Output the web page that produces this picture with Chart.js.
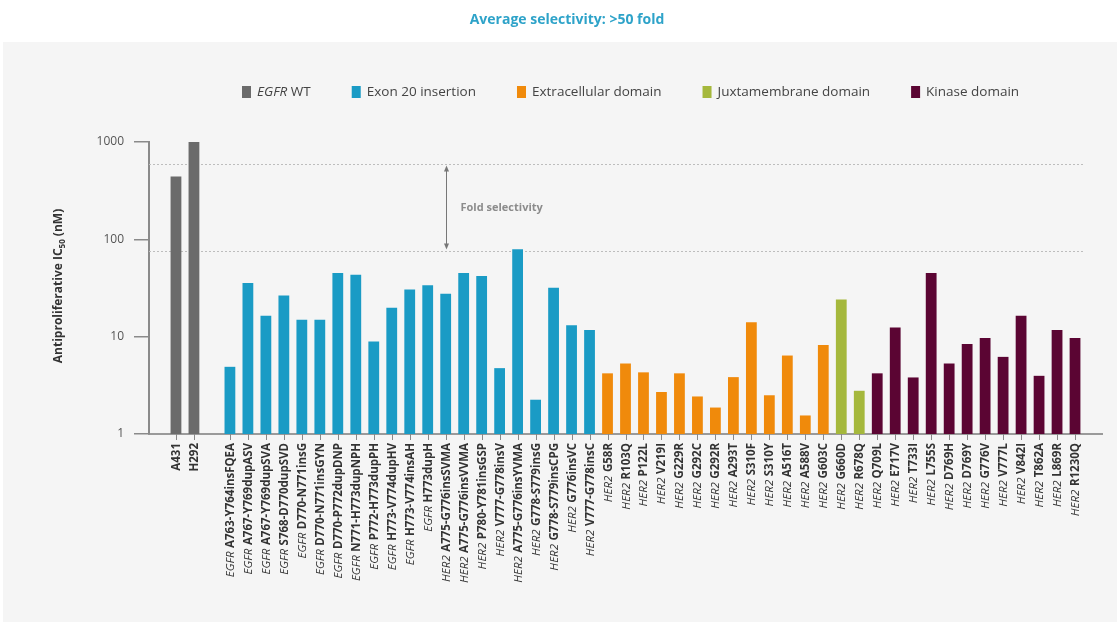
<!DOCTYPE html>
<html>
<head>
<meta charset="utf-8">
<script src="https://cdn.jsdelivr.net/npm/chart.js@4.4.0/dist/chart.umd.min.js"></script>
<style>
  html, body { margin: 0; padding: 0; background: #fff; }
  canvas { display: block; }
</style>
</head>
<body>
<canvas id="chart" width="1117" height="628"></canvas>
<script>
const FONT = "'Open Sans', sans-serif";
const titleText = "Average selectivity: >50 fold";
const yTitle = ["Antiproliferative IC", "50", " (nM)"];

const groupNames = ["EGFR WT", "Exon 20 insertion", "Extracellular domain", "Juxtamembrane domain", "Kinase domain"];
const groupColors = ["#6b6b6b", "#1a9bc5", "#f08a0b", "#a5b83c", "#5b0533"];

const wtCells = ["A431", "H292"];
const wtIC50 = [443, 1000];

const exon20Mutants = [
  "EGFR A763-Y764insFQEA", "EGFR A767-Y769dupASV", "EGFR A767-Y769dupSVA", "EGFR S768-D770dupSVD",
  "EGFR D770-N771insG", "EGFR D770-N771insGYN", "EGFR D770-P772dupDNP", "EGFR N771-H773dupNPH",
  "EGFR P772-H773dupPH", "EGFR H773-V774dupHV", "EGFR H773-V774insAH", "EGFR H773dupH",
  "HER2 A775-G776insSVMA", "HER2 A775-G776insVVMA", "HER2 P780-Y781insGSP", "HER2 V777-G778insV",
  "HER2 A775-G776insYVMA", "HER2 G778-S779insG", "HER2 G778-S779insCPG", "HER2 G776insVC",
  "HER2 V777-G778insC"
];
const exon20IC50 = [4.9, 35.5, 16.4, 26.5, 14.9, 14.9, 45, 43.3, 8.9, 19.8, 30.6, 33.8,
  27.6, 45, 41.9, 4.75, 79, 2.25, 31.8, 13.1, 11.7];

const ecdMutants = ["HER2 G58R", "HER2 R103Q", "HER2 P122L", "HER2 V219I", "HER2 G229R", "HER2 G292C",
  "HER2 G292R", "HER2 A293T", "HER2 S310F", "HER2 S310Y", "HER2 A516T", "HER2 A588V", "HER2 G603C"];
const ecdIC50 = [4.2, 5.3, 4.3, 2.7, 4.2, 2.43, 1.87, 3.84, 14.1, 2.5, 6.4, 1.55, 8.2];

const jmMutants = ["HER2 G660D", "HER2 R678Q"];
const jmIC50 = [24.1, 2.78];

const kinaseMutants = ["HER2 Q709L", "HER2 E717V", "HER2 T733I", "HER2 L755S", "HER2 D769H", "HER2 D769Y",
  "HER2 G776V", "HER2 V777L", "HER2 V842I", "HER2 T862A", "HER2 L869R", "HER2 R1230Q"];
const kinaseIC50 = [4.2, 12.4, 3.81, 45, 5.3, 8.4, 9.7, 6.2, 16.4, 3.96, 11.7, 9.7];

const yTicks = [1, 10, 100, 1000];
const selectivityLevels = [600, 75];
const arrowAnchor = "HER2 A775-G776insSVMA";
const arrowText = "Fold selectivity";

// build category list, with empty slots at both ends and after the WT pair
const groups = [wtCells, exon20Mutants, ecdMutants, jmMutants, kinaseMutants];
const groupValues = [wtIC50, exon20IC50, ecdIC50, jmIC50, kinaseIC50];
const labels = [""], values = [null], colors = ["rgba(0,0,0,0)"];
groups.forEach((g, gi) => {
  g.forEach((name, i) => {
    labels.push(name);
    values.push(groupValues[gi][i]);
    colors.push(groupColors[gi]);
  });
  if (gi === 0) { labels.push(""); values.push(null); colors.push("rgba(0,0,0,0)"); }
});
labels.push(""); values.push(null); colors.push("rgba(0,0,0,0)");

function drawSplit(ctx, text, x, y, size, color) {
  // "EGFR WT" style text: gene name italic, rest regular
  ctx.fillStyle = color;
  ctx.textAlign = "left";
  const sp = text.indexOf(" ");
  if (text.startsWith("EGFR ") || text.startsWith("HER2 ")) {
    ctx.font = "italic " + size + "px " + FONT;
    ctx.fillText(text.slice(0, sp), x, y);
    const w = ctx.measureText(text.slice(0, sp + 1)).width;
    ctx.font = size + "px " + FONT;
    ctx.fillText(text.slice(sp + 1), x + w, y);
    return w + ctx.measureText(text.slice(sp + 1)).width;
  }
  ctx.font = size + "px " + FONT;
  ctx.fillText(text, x, y);
  return ctx.measureText(text).width;
}

const decor = {
  id: "decor",
  beforeDraw(chart) {
    const ctx = chart.ctx;
    ctx.save();
    ctx.fillStyle = "#ffffff";
    ctx.fillRect(0, 0, chart.width, chart.height);
    ctx.fillStyle = "#f5f5f5";
    ctx.fillRect(3, 42, chart.width - 3, 580);

    // title
    ctx.fillStyle = "#2ea3c9";
    ctx.font = "bold 14px " + FONT;
    ctx.textAlign = "center";
    ctx.textBaseline = "middle";
    ctx.fillText(titleText, 567, 20);

    // legend
    let x = 242;
    const ly = 92;
    groupNames.forEach((name, i) => {
      ctx.fillStyle = groupColors[i];
      ctx.fillRect(x, ly - 6, 9, 12);
      x += 15;
      x += drawSplit(ctx, name, x, ly, 13.5, "#444");
      x += 41;
    });

    // y axis title with subscript
    ctx.translate(59, 286);
    ctx.rotate(-Math.PI / 2);
    ctx.fillStyle = "#333";
    ctx.textAlign = "left";
    ctx.font = "bold 12px " + FONT;
    const w0 = ctx.measureText(yTitle[0]).width;
    const w2 = ctx.measureText(yTitle[2]).width;
    ctx.font = "bold 8px " + FONT;
    const w1 = ctx.measureText(yTitle[1]).width;
    let tx = -(w0 + w1 + w2) / 2;
    ctx.font = "bold 12px " + FONT;
    ctx.fillText(yTitle[0], tx, 0);
    tx += w0;
    ctx.font = "bold 8px " + FONT;
    ctx.fillText(yTitle[1], tx, 4);
    tx += w1;
    ctx.font = "bold 12px " + FONT;
    ctx.fillText(yTitle[2], tx, 0);
    ctx.restore();
  },
  beforeDatasetsDraw(chart) {
    const ctx = chart.ctx;
    const xs = chart.scales.x, ys = chart.scales.y;
    const lastIdx = labels.length - 2;
    const xEnd = xs.getPixelForValue(lastIdx) + 8;
    ctx.save();
    ctx.strokeStyle = "#bdbdbd";
    ctx.lineWidth = 1;
    ctx.setLineDash([2, 2]);
    selectivityLevels.forEach(v => {
      const py = Math.round(ys.getPixelForValue(v)) + 0.5;
      ctx.beginPath();
      ctx.moveTo(chart.chartArea.left, py);
      ctx.lineTo(xEnd, py);
      ctx.stroke();
    });
    ctx.restore();
  },
  afterDraw(chart) {
    const ctx = chart.ctx;
    const xs = chart.scales.x, ys = chart.scales.y;
    const yb = chart.chartArea.bottom;
    ctx.save();
    // x tick marks and rotated labels
    labels.forEach((lab, i) => {
      if (!lab) return;
      const px = Math.round(xs.getPixelForValue(i)) + 0.5;
      ctx.strokeStyle = "#888";
      ctx.lineWidth = 1;
      ctx.beginPath();
      ctx.moveTo(px, yb);
      ctx.lineTo(px, yb + 6);
      ctx.stroke();
      ctx.save();
      ctx.translate(px, yb + 9);
      ctx.rotate(-Math.PI / 2);
      ctx.textAlign = "right";
      ctx.textBaseline = "middle";
      ctx.fillStyle = "#333";
      const sp = lab.indexOf(" ");
      const prefix = sp > 0 ? lab.slice(0, sp) : "";
      const rest = sp > 0 ? lab.slice(sp + 1) : lab;
      ctx.font = "bold 11.5px " + FONT;
      ctx.fillText(rest, 0, 0);
      const w = ctx.measureText(rest).width;
      if (prefix) {
        ctx.font = "italic 11.5px " + FONT;
        ctx.fillText(prefix, -w - 3.5, 0);
      }
      ctx.restore();
    });

    // fold selectivity arrow
    const ax = Math.round(xs.getPixelForValue(labels.indexOf(arrowAnchor))) + 0.5;
    const y1 = ys.getPixelForValue(selectivityLevels[0]) + 2;
    const y2 = ys.getPixelForValue(selectivityLevels[1]) - 2;
    ctx.strokeStyle = "#777";
    ctx.fillStyle = "#777";
    ctx.lineWidth = 1;
    ctx.beginPath();
    ctx.moveTo(ax, y1 + 3);
    ctx.lineTo(ax, y2 - 3);
    ctx.stroke();
    ctx.beginPath();
    ctx.moveTo(ax, y1); ctx.lineTo(ax - 2.5, y1 + 6); ctx.lineTo(ax + 2.5, y1 + 6); ctx.closePath();
    ctx.fill();
    ctx.beginPath();
    ctx.moveTo(ax, y2); ctx.lineTo(ax - 2.5, y2 - 6); ctx.lineTo(ax + 2.5, y2 - 6); ctx.closePath();
    ctx.fill();
    ctx.fillStyle = "#8c8c8c";
    ctx.font = "bold 11px " + FONT;
    ctx.textAlign = "left";
    ctx.textBaseline = "middle";
    ctx.fillText(arrowText, ax + 14, (y1 + y2) / 2);
    ctx.restore();
  }
};

new Chart(document.getElementById("chart").getContext("2d"), {
  type: "bar",
  data: {
    labels: labels,
    datasets: [{
      data: values,
      backgroundColor: colors,
      borderWidth: 0,
      categoryPercentage: 1,
      barPercentage: 0.6
    }]
  },
  options: {
    responsive: false,
    animation: false,
    events: [],
    layout: { padding: { top: 142, right: 15, left: 0, bottom: 0 } },
    plugins: { legend: { display: false }, tooltip: { enabled: false }, title: { display: false } },
    scales: {
      x: {
        offset: true,
        grid: { display: false },
        ticks: { display: false },
        border: { display: true, color: "#9a9a9a", width: 2 },
        afterFit(scale) { scale.height = 628 - 434; }
      },
      y: {
        type: "logarithmic",
        min: 1,
        max: 1000,
        afterBuildTicks(scale) { scale.ticks = yTicks.map(v => ({ value: v })); },
        ticks: {
          color: "#555",
          font: { family: FONT, size: 12 },
          padding: 10,
          callback: v => String(v)
        },
        grid: { drawOnChartArea: false, drawTicks: true, tickLength: 15, color: "#8a8a8a", lineWidth: 1.5 },
        border: { display: true, color: "#8a8a8a", width: 2 },
        afterFit(scale) { scale.width = 149; }
      }
    }
  },
  plugins: [decor]
});
</script>
</body>
</html>
